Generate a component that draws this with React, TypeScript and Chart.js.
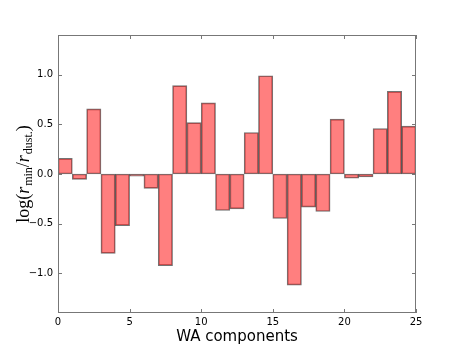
import React, { useEffect, useRef } from "react";
import { Chart, registerables } from "chart.js";

Chart.register(...registerables);

const components: number[] = Array.from({ length: 25 }, (_, i) => i);
const values: number[] = [
  0.157, -0.054, 0.656, -0.8, -0.52, -0.023, -0.144, -0.923, 0.89, 0.518,
  0.716, -0.368, -0.351, 0.418, 0.99, -0.448, -1.12, -0.334, -0.378, 0.552,
  -0.043, -0.03, 0.458, 0.833, 0.482,
];
const xTicks: number[] = [0, 5, 10, 15, 20, 25];
const yTicks: number[] = [-1.0, -0.5, 0.0, 0.5, 1.0];
const xTitle = "WA components";

const framePlugin = {
  id: "frame",
  afterDraw(chart: any) {
    const { ctx, chartArea, scales } = chart;
    const { left, right, top, bottom } = chartArea;
    ctx.save();
    ctx.strokeStyle = "#777";
    ctx.lineWidth = 1;
    ctx.strokeRect(left + 0.5, top + 0.5, right - left - 1, bottom - top - 1);
    ctx.beginPath();
    const L = 4;
    for (const t of xTicks) {
      const x = Math.round(scales.x.getPixelForValue(t)) + 0.5;
      ctx.moveTo(x, bottom);
      ctx.lineTo(x, bottom - L);
      ctx.moveTo(x, top);
      ctx.lineTo(x, top + L);
    }
    for (const t of yTicks) {
      const y = Math.round(scales.y.getPixelForValue(t)) + 0.5;
      ctx.moveTo(left, y);
      ctx.lineTo(left + L, y);
      ctx.moveTo(right, y);
      ctx.lineTo(right - L, y);
    }
    ctx.stroke();

    // x title
    ctx.fillStyle = "#000";
    ctx.font = '15px "DejaVu Sans"';
    ctx.textAlign = "center";
    ctx.textBaseline = "alphabetic";
    ctx.fillText(xTitle, (left + right) / 2, 341);

    // y title: log(r_min / r_dust.)
    ctx.translate(29, (top + bottom) / 2);
    ctx.rotate(-Math.PI / 2);
    const big = '18px "Liberation Serif"';
    const bigIt = 'italic 18px "Liberation Serif"';
    const small = '12px "Liberation Serif"';
    const parts: { t: string; f: string; dy: number; gap: number }[] = [
      { t: "log(", f: big, dy: 0, gap: 0 },
      { t: "r", f: bigIt, dy: 0, gap: 1 },
      { t: "min", f: small, dy: 3, gap: 0 },
      { t: "/", f: big, dy: 0, gap: 0 },
      { t: "r", f: bigIt, dy: 0, gap: 1 },
      { t: "dust.", f: small, dy: 3, gap: 0 },
      { t: ")", f: big, dy: 0, gap: 0 },
    ];
    let total = 0;
    for (const p of parts) {
      ctx.font = p.f;
      total += ctx.measureText(p.t).width + p.gap;
    }
    let x = -total / 2;
    ctx.textAlign = "left";
    for (const p of parts) {
      ctx.font = p.f;
      ctx.fillText(p.t, x, p.dy);
      x += ctx.measureText(p.t).width + p.gap;
    }
    ctx.restore();
  },
};

function App() {
  const ref = useRef<HTMLCanvasElement | null>(null);
  useEffect(() => {
    document.body.style.margin = "0";
    const chart = new Chart(ref.current as HTMLCanvasElement, {
      type: "bar",
      data: {
        datasets: [
          {
            data: components.map((c, i) => ({ x: c + 0.5, y: values[i] })),
            backgroundColor: "rgba(255,0,0,0.5)",
            borderColor: "rgba(0,0,0,0.55)",
            borderWidth: 1,
            borderSkipped: false,
            barPercentage: 1,
            categoryPercentage: 1,
          },
        ],
      },
      options: {
        animation: false,
        responsive: false,
        maintainAspectRatio: false,
        layout: { padding: { top: 35, right: 47, left: 0, bottom: 0 } },
        plugins: { legend: { display: false }, tooltip: { enabled: false } },
        scales: {
          x: {
            type: "linear",
            min: 0,
            max: 25,
            offset: false,
            afterBuildTicks: (s: any) => {
              s.ticks = xTicks.map((v) => ({ value: v }));
            },
            afterFit: (s: any) => {
              s.height = 35;
            },
            grid: { display: false, drawTicks: false, tickLength: 0 },
            border: { display: false },
            ticks: {
              font: { family: "DejaVu Sans", size: 10 },
              color: "#000",
              padding: 3,
              maxRotation: 0,
              callback: (v: any) => String(v),
            },
          },
          y: {
            type: "linear",
            min: -1.4,
            max: 1.4,
            afterBuildTicks: (s: any) => {
              s.ticks = yTicks.map((v) => ({ value: v }));
            },
            afterFit: (s: any) => {
              s.width = 58;
            },
            grid: { display: false, drawTicks: false, tickLength: 0 },
            border: { display: false },
            ticks: {
              font: { family: "DejaVu Sans", size: 10 },
              color: "#000",
              padding: 5,
              callback: (v: any) => {
                const n = Number(v);
                const s = Math.abs(n).toFixed(1);
                return n < 0 ? "\u2212" + s : s;
              },
            },
          },
        },
      },
      plugins: [framePlugin],
    });
    return () => chart.destroy();
  }, []);
  return (
    <div style={{ position: "fixed", left: 0, top: 0, width: 463, height: 348, background: "#fff" }}>
      <canvas ref={ref} width={463} height={348} />
    </div>
  );
}

export default App;
